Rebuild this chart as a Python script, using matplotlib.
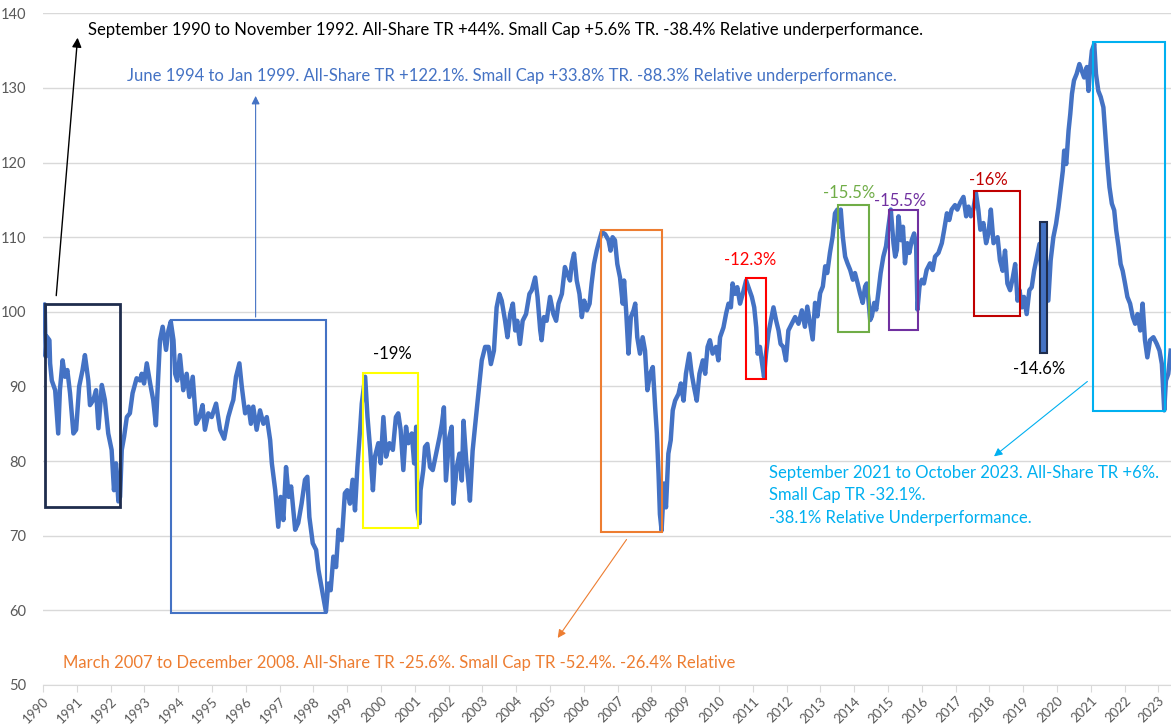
import matplotlib
matplotlib.use("Agg")
import matplotlib.pyplot as plt
from matplotlib.patches import Rectangle

plt.rcParams['font.family'] = ['Lato', 'DejaVu Sans']

# relative performance, small cap vs all-share
years = [
    1990.02, 1990.05, 1990.08, 1990.11, 1990.19, 1990.21, 1990.26, 1990.36, 1990.45, 1990.50,
    1990.58, 1990.65, 1990.72, 1990.80, 1990.90, 1990.98, 1991.07, 1991.17, 1991.24, 1991.34,
    1991.39, 1991.49, 1991.57, 1991.64, 1991.74, 1991.83, 1991.93, 1992.03, 1992.10, 1992.16,
    1992.23, 1992.28, 1992.33, 1992.40, 1992.48, 1992.57, 1992.65, 1992.77, 1992.87, 1992.92,
    1992.99, 1993.07, 1993.17, 1993.26, 1993.34, 1993.41, 1993.46, 1993.54, 1993.64, 1993.71,
    1993.78, 1993.86, 1993.91, 1993.97, 1994.05, 1994.15, 1994.25, 1994.33, 1994.43, 1994.53,
    1994.63, 1994.72, 1994.79, 1994.89, 1994.99, 1995.12, 1995.24, 1995.36, 1995.48, 1995.58,
    1995.63, 1995.71, 1995.81, 1995.88, 1995.98, 1996.08, 1996.15, 1996.22, 1996.32, 1996.42,
    1996.52, 1996.62, 1996.72, 1996.77, 1996.87, 1996.96, 1997.03, 1997.11, 1997.19, 1997.27,
    1997.34, 1997.46, 1997.55, 1997.65, 1997.75, 1997.82, 1997.88, 1997.98, 1998.08, 1998.15,
    1998.22, 1998.29, 1998.37, 1998.44, 1998.51, 1998.59, 1998.67, 1998.74, 1998.84, 1998.93,
    1999.00, 1999.08, 1999.16, 1999.23, 1999.30, 1999.38, 1999.43, 1999.53, 1999.60, 1999.68,
    1999.76, 1999.82, 1999.92, 1999.99, 2000.07, 2000.15, 2000.25, 2000.35, 2000.44, 2000.51,
    2000.58, 2000.66, 2000.74, 2000.81, 2000.91, 2000.98, 2001.04, 2001.08, 2001.14, 2001.17,
    2001.25, 2001.30, 2001.37, 2001.45, 2001.53, 2001.63, 2001.73, 2001.80, 2001.86, 2001.92,
    2002.02, 2002.09, 2002.14, 2002.24, 2002.32, 2002.39, 2002.44, 2002.52, 2002.58, 2002.63,
    2002.71, 2002.78, 2002.88, 2002.98, 2003.08, 2003.18, 2003.25, 2003.34, 2003.42, 2003.50,
    2003.57, 2003.67, 2003.74, 2003.82, 2003.90, 2003.97, 2004.03, 2004.11, 2004.19, 2004.29,
    2004.39, 2004.46, 2004.56, 2004.63, 2004.71, 2004.75, 2004.82, 2004.90, 2005.00, 2005.10,
    2005.18, 2005.25, 2005.35, 2005.44, 2005.51, 2005.59, 2005.64, 2005.71, 2005.79, 2005.87,
    2005.94, 2006.01, 2006.09, 2006.17, 2006.23, 2006.30, 2006.38, 2006.46, 2006.53, 2006.63,
    2006.73, 2006.79, 2006.85, 2006.92, 2006.99, 2007.07, 2007.15, 2007.19, 2007.25, 2007.32,
    2007.39, 2007.47, 2007.52, 2007.58, 2007.66, 2007.74, 2007.81, 2007.88, 2007.96, 2008.04,
    2008.11, 2008.16, 2008.21, 2008.25, 2008.30, 2008.37, 2008.43, 2008.50, 2008.57, 2008.63,
    2008.70, 2008.80, 2008.87, 2008.95, 2009.02, 2009.12, 2009.19, 2009.26, 2009.34, 2009.42,
    2009.52, 2009.59, 2009.66, 2009.73, 2009.81, 2009.91, 2009.98, 2010.03, 2010.13, 2010.21,
    2010.28, 2010.35, 2010.40, 2010.47, 2010.54, 2010.62, 2010.70, 2010.80, 2010.87, 2010.97,
    2011.04, 2011.10, 2011.14, 2011.21, 2011.26, 2011.33, 2011.39, 2011.46, 2011.53, 2011.61,
    2011.69, 2011.76, 2011.82, 2011.90, 2011.98, 2012.05, 2012.15, 2012.25, 2012.35, 2012.45,
    2012.54, 2012.61, 2012.69, 2012.77, 2012.84, 2012.91, 2012.99, 2013.07, 2013.14, 2013.20,
    2013.28, 2013.36, 2013.43, 2013.50, 2013.56, 2013.60, 2013.66, 2013.73, 2013.80, 2013.88,
    2013.96, 2014.02, 2014.10, 2014.17, 2014.25, 2014.32, 2014.37, 2014.42, 2014.47, 2014.52,
    2014.59, 2014.65, 2014.71, 2014.78, 2014.86, 2014.94, 2015.01, 2015.08, 2015.16, 2015.21,
    2015.26, 2015.31, 2015.38, 2015.44, 2015.50, 2015.57, 2015.63, 2015.70, 2015.77, 2015.83,
    2015.87, 2015.93, 2016.00, 2016.06, 2016.14, 2016.24, 2016.32, 2016.39, 2016.49, 2016.59,
    2016.66, 2016.74, 2016.81, 2016.88, 2016.98, 2017.05, 2017.13, 2017.23, 2017.31, 2017.38,
    2017.45, 2017.52, 2017.60, 2017.67, 2017.73, 2017.82, 2017.90, 2017.97, 2018.04, 2018.12,
    2018.24, 2018.31, 2018.39, 2018.46, 2018.53, 2018.61, 2018.69, 2018.76, 2018.83, 2018.89,
    2018.96, 2019.02, 2019.10, 2019.18, 2019.25, 2019.32, 2019.40, 2019.48, 2019.52, 2019.60,
    2019.67, 2019.74, 2019.81, 2019.89, 2019.97, 2020.04, 2020.11, 2020.17, 2020.21, 2020.27,
    2020.34, 2020.39, 2020.44, 2020.50, 2020.58, 2020.66, 2020.73, 2020.80, 2020.88, 2020.93,
    2020.98, 2021.03, 2021.10, 2021.15, 2021.22, 2021.29, 2021.37, 2021.42, 2021.49, 2021.55,
    2021.62, 2021.69, 2021.75, 2021.82, 2021.88, 2021.94, 2022.01, 2022.08, 2022.16, 2022.24,
    2022.31, 2022.38, 2022.46, 2022.53, 2022.60, 2022.67, 2022.75, 2022.85, 2022.95, 2023.03,
    2023.10, 2023.15, 2023.17, 2023.22, 2023.29, 2023.36,
]
relative = [
    100.0, 101.0, 94.0, 96.7, 96.2, 93.1, 90.8, 89.5, 83.7, 89.5,
    93.5, 91.3, 92.2, 89.1, 83.7, 84.2, 90.0, 92.2, 94.2, 90.8,
    87.5, 88.2, 89.5, 84.4, 90.2, 88.2, 83.7, 81.5, 76.1, 79.7,
    74.6, 75.2, 81.5, 83.3, 85.9, 86.4, 89.1, 91.1, 90.8, 91.7,
    90.4, 93.1, 90.4, 88.2, 84.8, 91.3, 96.2, 98.0, 94.9, 97.5,
    98.7, 96.2, 91.7, 90.8, 94.2, 89.5, 91.7, 88.6, 91.3, 85.0,
    85.9, 87.5, 84.2, 86.4, 85.9, 87.7, 84.2, 83.0, 85.9, 87.5,
    88.2, 91.3, 93.1, 90.0, 86.4, 87.3, 85.0, 87.3, 84.2, 86.8,
    85.0, 85.9, 82.8, 79.7, 76.1, 71.2, 75.2, 72.1, 79.2, 75.2,
    76.6, 70.8, 71.7, 74.3, 77.5, 77.9, 72.5, 69.0, 68.1, 65.4,
    63.6, 61.8, 59.8, 63.6, 62.7, 67.2, 65.8, 70.8, 69.4, 75.7,
    76.1, 74.3, 77.5, 73.4, 79.2, 84.2, 87.7, 91.3, 85.9, 81.5,
    76.1, 80.6, 82.4, 79.7, 85.9, 80.6, 82.4, 81.5, 85.9, 86.4,
    84.2, 78.8, 84.6, 82.4, 83.7, 79.7, 84.6, 73.4, 71.7, 76.1,
    78.8, 81.9, 82.3, 79.2, 78.8, 81.0, 83.2, 85.0, 87.2, 77.4,
    83.2, 84.6, 74.3, 79.2, 81.0, 77.4, 85.4, 80.1, 77.4, 74.7,
    81.4, 84.6, 89.0, 93.5, 95.3, 95.3, 93.0, 94.8, 100.6, 102.4,
    101.5, 98.8, 96.6, 99.7, 101.1, 97.5, 98.8, 95.7, 98.8, 99.7,
    102.4, 102.9, 104.6, 102.0, 97.5, 96.2, 99.3, 98.8, 102.0, 99.7,
    98.8, 101.1, 102.4, 106.0, 105.1, 104.2, 106.4, 107.8, 104.2, 102.4,
    99.3, 101.5, 100.2, 101.1, 103.8, 106.4, 108.2, 109.6, 110.7, 110.4,
    109.6, 108.2, 110.0, 109.6, 106.4, 104.6, 101.1, 104.2, 100.2, 94.4,
    99.3, 100.2, 101.1, 96.6, 94.4, 96.6, 94.8, 89.5, 91.7, 92.6,
    87.2, 83.7, 78.3, 72.9, 70.7, 77.0, 73.8, 81.0, 82.8, 86.8,
    88.1, 89.0, 90.4, 88.1, 91.7, 94.4, 91.7, 89.9, 88.1, 91.7,
    93.5, 91.7, 95.3, 96.2, 94.4, 95.3, 93.5, 96.6, 97.9, 99.8,
    101.1, 100.6, 103.8, 102.4, 103.3, 101.1, 102.4, 104.2, 103.3, 102.0,
    100.6, 97.9, 94.4, 95.3, 93.5, 91.3, 94.4, 97.1, 98.8, 100.6,
    98.8, 97.5, 95.7, 95.3, 93.5, 97.5, 98.4, 99.3, 98.4, 100.2,
    98.0, 100.7, 98.5, 96.3, 101.2, 99.4, 102.5, 103.4, 106.1, 105.2,
    107.9, 110.1, 113.2, 113.7, 111.4, 113.7, 110.1, 107.4, 106.5, 105.6,
    104.3, 105.2, 103.8, 102.5, 101.2, 103.4, 103.8, 101.6, 98.9, 99.4,
    101.2, 100.3, 102.5, 105.2, 107.4, 108.8, 111.4, 113.7, 109.2, 107.4,
    108.3, 112.8, 109.6, 111.4, 106.5, 109.2, 107.9, 109.6, 110.5, 108.8,
    100.3, 103.4, 104.3, 103.8, 105.6, 106.5, 105.6, 107.4, 107.9, 109.2,
    111.0, 113.2, 112.3, 113.7, 114.3, 113.7, 114.6, 115.4, 112.8, 114.1,
    112.8, 113.7, 115.9, 113.7, 111.0, 111.9, 109.2, 110.5, 113.7, 109.2,
    110.0, 106.9, 105.5, 108.2, 103.8, 102.9, 104.6, 106.4, 101.5, 102.9,
    100.6, 102.0, 99.7, 102.9, 103.3, 105.5, 107.3, 109.1, 106.4, 103.8,
    106.9, 101.5, 106.9, 110.0, 111.8, 114.0, 116.7, 118.9, 121.6, 119.8,
    124.3, 126.5, 129.2, 131.0, 131.9, 133.2, 132.3, 131.4, 132.8, 129.6,
    132.8, 135.0, 135.9, 131.9, 129.6, 128.8, 127.4, 124.3, 119.8, 116.7,
    114.5, 113.6, 110.9, 108.7, 106.4, 105.5, 103.8, 102.0, 101.1, 99.3,
    98.4, 99.7, 97.5, 101.1, 96.2, 93.9, 96.2, 96.6, 95.7, 94.8,
    93.0, 88.6, 86.8, 90.8, 91.7, 94.8,
]

year_ticks = list(range(1990, 2024))

# highlighted periods: (x0, y0, x1, y1, colour)
boxes = [
    (1990.05, 73.9, 1992.28, 101.07, '#1F2D4D'),
    (1993.79, 59.6, 1998.36, 98.93, '#4472C4'),
    (1999.48, 71.09, 2001.10, 91.78, '#FFFF00'),
    (2006.51, 70.55, 2008.32, 110.9, '#ED7D31'),
    (2010.80, 90.98, 2011.39, 104.52, '#FF0000'),
    (2013.53, 97.36, 2014.44, 114.25, '#70AD47'),
    (2015.04, 97.59, 2015.90, 113.58, '#7030A0'),
    (2017.54, 99.46, 2018.91, 116.13, '#C00000'),
    (2021.07, 86.73, 2023.19, 136.1, '#00B0F0'),
]

drop_labels = [
    ('-19%', 2000.35, 94.4, 'black'),
    ('-12.3%', 2010.92, 107.0, '#FF0000'),
    ('-15.5%', 2013.85, 115.9, '#70AD47'),
    ('-15.5%', 2015.36, 114.8, '#7030A0'),
    ('-16%', 2017.97, 117.6, '#C00000'),
    ('-14.6%', 2019.48, 92.4, 'black'),
]

fig = plt.figure(figsize=(11.71, 7.25), dpi=100)
ax = fig.add_axes([43 / 1171, 1 - 685 / 725, 1128 / 1171, 671.7 / 725])

ax.plot(years, relative, color='#4472C4', lw=3.2, solid_joinstyle='round', zorder=3)

ax.set_xlim(1990, 2023.37)
ax.set_ylim(50, 140)
ax.set_yticks(range(50, 141, 10))
ax.set_xticks(year_ticks)
ax.set_xticklabels([str(y) for y in year_ticks], rotation=45, ha='right',
                   rotation_mode='anchor', fontsize=9.5, color='#595959')
ax.tick_params(axis='y', length=0, labelsize=10.5, labelcolor='#595959', pad=12)
ax.tick_params(axis='x', length=5, color='#D9D9D9', pad=2)
ax.grid(axis='y', color='#D9D9D9', lw=1)
ax.set_axisbelow(True)
for s in ['top', 'right', 'left']:
    ax.spines[s].set_visible(False)
ax.spines['bottom'].set_color('#D9D9D9')

for x0, y0, x1, y1, c in boxes:
    lw = 2.0 if c == '#1F2D4D' else 1.5
    ax.add_patch(Rectangle((x0, y0), x1 - x0, y1 - y0, fill=False, ec=c, lw=lw, zorder=4))
# thin filled bar for 2019
ax.add_patch(Rectangle((2019.50, 94.46), 0.19, 17.51, fc='#4472C4', ec='#1F2D4D', lw=1.5, zorder=4))

for txt, x, y, c in drop_labels:
    ax.text(x, y, txt, color=c, fontsize=12, ha='center', va='center', zorder=5)

# arrows + long captions
ax.annotate('', xy=(1991.03, 137.1), xytext=(1990.385, 101.8),
            arrowprops=dict(arrowstyle='-|>', color='black', lw=1, mutation_scale=14))
ax.text(1991.33, 137.8, 'September 1990 to November 1992. All-Share TR +44%. Small Cap +5.6% TR. '
        '-38.4% Relative underperformance.', fontsize=12, color='black', va='center')

ax.annotate('', xy=(1996.29, 129.3), xytext=(1996.29, 98.93),
            arrowprops=dict(arrowstyle='-|>', color='#4472C4', lw=0.8, mutation_scale=12))
ax.text(1992.49, 131.6, 'June 1994 to Jan 1999. All-Share TR +122.1%. Small Cap +33.8% TR. '
        '-88.3% Relative underperformance.', fontsize=12, color='#4472C4', va='center')

ax.annotate('', xy=(2005.18, 56.0), xytext=(2007.31, 69.8),
            arrowprops=dict(arrowstyle='-|>', color='#ED7D31', lw=0.8, mutation_scale=12))
ax.text(1990.59, 52.95, 'March 2007 to December 2008. All-Share TR -25.6%. Small Cap TR -52.4%. '
        '-26.4% Relative', fontsize=12, color='#ED7D31', va='center')

ax.annotate('', xy=(2018.07, 80.4), xytext=(2020.96, 90.9),
            arrowprops=dict(arrowstyle='-|>', color='#00B0F0', lw=0.8, mutation_scale=12))
cyan_lines = ['September 2021 to October 2023. All-Share TR +6%.',
              'Small Cap TR -32.1%.',
              '-38.1% Relative Underperformance.']
for i, line in enumerate(cyan_lines):
    ax.text(2011.48, 78.4 - i * 3.0, line, fontsize=12, color='#00B0F0', va='center')

fig.savefig('out.png', dpi=100)
